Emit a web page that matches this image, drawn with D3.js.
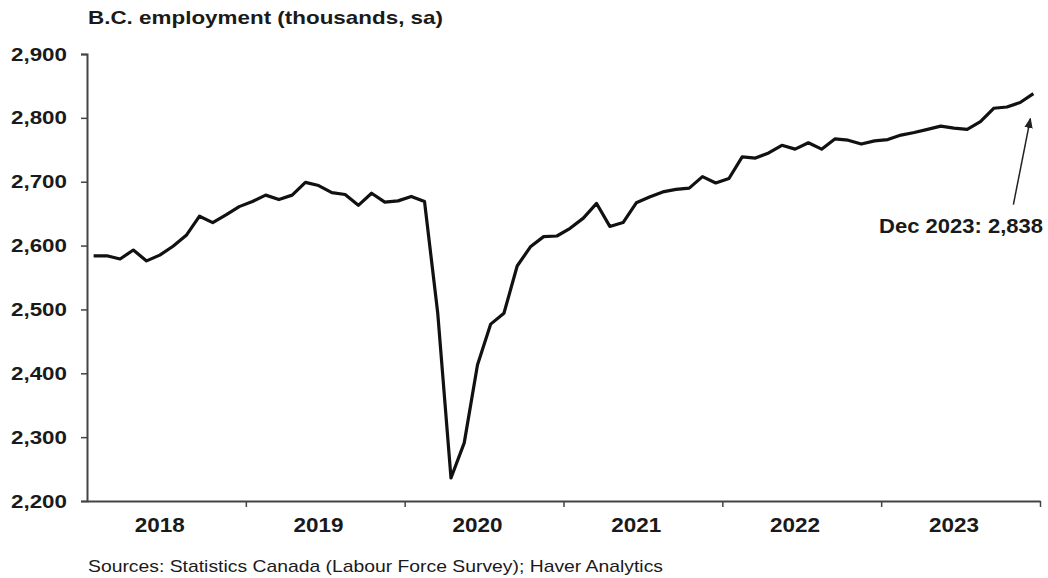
<!DOCTYPE html>
<html>
<head>
<meta charset="utf-8">
<script src="https://cdn.jsdelivr.net/npm/d3@7"></script>
<style>
  body { margin: 0; background: #fff; }
  text { font-family: Arial, "Liberation Sans", sans-serif; fill: #1a1a1a; }
</style>
</head>
<body>
<div id="chart"></div>
<script>
const margin = ({top: 54, right: 8, bottom: 77, left: 87})
const W = 1048, H = 578
const width = W - margin.left - margin.right
const height = H - margin.top - margin.bottom

// monthly, Jan 2018 .. Dec 2023
const years = ["2018", "2019", "2020", "2021", "2022", "2023"]
const employment = [
  2584, 2584, 2579, 2593, 2576, 2585, 2599, 2616, 2646, 2636, 2648, 2661,
  2669, 2679, 2672, 2679, 2699, 2694, 2683, 2680, 2663, 2682, 2668, 2670,
  2677, 2669, 2494, 2236, 2291, 2413, 2477, 2494, 2568, 2598, 2614, 2615,
  2627, 2643, 2666, 2630, 2636, 2667, 2676, 2684, 2688, 2690, 2708, 2698,
  2705, 2739, 2737, 2745, 2757, 2751, 2761, 2751, 2767, 2765, 2759, 2764,
  2766, 2773, 2777, 2782, 2787, 2784, 2782, 2794, 2815, 2817, 2824, 2838
]
const yTicks = [2200, 2300, 2400, 2500, 2600, 2700, 2800, 2900]
const lastLabel = "Dec 2023: 2,838"

const data = employment.map((v, i) => ({i, v}))

const svg = d3.create("svg")
    .attr("width", W)
    .attr("height", H)
d3.select("#chart").append(() => svg.node())

const g = svg.append("g")
    .attr("transform", `translate(${margin.left},${margin.top})`)

const x = d3.scaleLinear()
    .domain([0, employment.length])
    .range([0, width])

const y = d3.scaleLinear()
    .domain([2200, 2900])
    .range([height, 0])

// y axis
const yAxis = g.append("g")
    .call(d3.axisLeft(y).tickValues(yTicks).tickFormat(d3.format(",")).tickSize(6).tickPadding(14))
yAxis.select(".domain").attr("stroke", "#444").attr("stroke-width", 2)
yAxis.selectAll(".tick line").attr("stroke", "#444").attr("stroke-width", 1.5)
yAxis.selectAll("text")
    .attr("font-size", "19px")
    .attr("font-weight", "bold")
    .attr("fill", "#1a1a1a")
    .attr("textLength", 56)
    .attr("lengthAdjust", "spacingAndGlyphs")
    .style("font-family", "Arial, 'Liberation Sans', sans-serif")

// x axis: ticks at year boundaries
const xAxis = g.append("g")
    .attr("transform", `translate(0,${height})`)
    .call(d3.axisBottom(x).tickValues(d3.range(12, employment.length + 1, 12)).tickFormat("").tickSizeInner(6).tickSizeOuter(0))
xAxis.select(".domain").attr("stroke", "#444").attr("stroke-width", 2)
xAxis.selectAll(".tick line").attr("stroke", "#444").attr("stroke-width", 1.5)

g.append("g")
  .selectAll("text")
  .data(years)
  .join("text")
    .attr("x", (d, k) => x(k * 12 + 5.5) - 25)
    .attr("y", height + 31)
    .attr("font-size", "21px")
    .attr("font-weight", "bold")
    .attr("textLength", 50)
    .attr("lengthAdjust", "spacingAndGlyphs")
    .text(d => d)

// line
const line = d3.line()
    .x(d => x(d.i + 0.5))
    .y(d => y(d.v))

g.append("path")
    .datum(data)
    .attr("fill", "none")
    .attr("stroke", "#111")
    .attr("stroke-width", 3.2)
    .attr("stroke-linejoin", "round")
    .attr("d", line)

// annotation arrow
svg.append("defs").append("marker")
    .attr("id", "head")
    .attr("viewBox", "0 0 10 10")
    .attr("refX", 9).attr("refY", 5)
    .attr("markerWidth", 7).attr("markerHeight", 7)
    .attr("orient", "auto")
  .append("path")
    .attr("d", "M0,1 L10,5 L0,9 Z")
    .attr("fill", "#222")

const last = data[data.length - 1]
const tipX = x(last.i + 0.5) - 3, tipY = y(last.v) + 25
g.append("line")
    .attr("x1", tipX - 17)
    .attr("y1", tipY + 86)
    .attr("x2", tipX)
    .attr("y2", tipY)
    .attr("stroke", "#222")
    .attr("stroke-width", 1.5)
    .attr("marker-end", "url(#head)")

g.append("text")
    .attr("x", width + 3 - 164)
    .attr("y", tipY + 114)
    .attr("font-size", "20px")
    .attr("font-weight", "bold")
    .attr("textLength", 164)
    .attr("lengthAdjust", "spacingAndGlyphs")
    .text(lastLabel)

// title and source
svg.append("text")
    .attr("x", margin.left + 1)
    .attr("y", 24)
    .attr("font-size", "19px")
    .attr("font-weight", "bold")
    .attr("textLength", 355)
    .attr("lengthAdjust", "spacingAndGlyphs")
    .text("B.C. employment (thousands, sa)")

svg.append("text")
    .attr("x", margin.left + 1)
    .attr("y", 572)
    .attr("font-size", "17px")
    .attr("textLength", 575)
    .attr("lengthAdjust", "spacingAndGlyphs")
    .text("Sources: Statistics Canada (Labour Force Survey); Haver Analytics")
</script>
</body>
</html>
